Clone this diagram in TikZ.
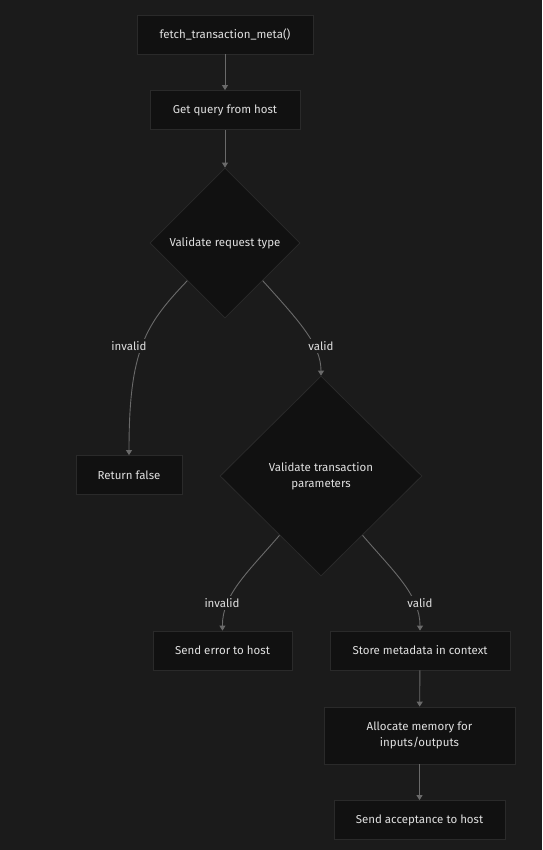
\documentclass[tikz,border=0pt]{standalone}
\usepackage{fontspec}
\setmainfont{Fira Sans}
\usetikzlibrary{shapes.geometric,arrows.meta}
\definecolor{pagebg}{HTML}{1B1B1B}
\definecolor{boxfill}{HTML}{111111}
\definecolor{boxline}{HTML}{2A2A2A}
\definecolor{txt}{HTML}{E0E0E0}
\definecolor{wire}{HTML}{6A6A6A}
\begin{document}
\begin{tikzpicture}[x=1pt,y=-1pt,
  font=\fontsize{11.5}{16}\selectfont, text=txt,
  procbox/.style={draw=boxline, fill=boxfill, line width=0.8pt, minimum height=39pt, align=center, inner sep=0pt},
  decision/.style={diamond, draw=boxline, fill=boxfill, line width=0.8pt, aspect=1, inner sep=0pt, align=center},
  flow/.style={draw=wire, line width=0.9pt, -{Triangle[width=6pt,length=5pt]}},
  tag/.style={fill=pagebg, inner sep=2pt, text=txt}]
\fill[pagebg] (0,0) rectangle (542,850);
\useasboundingbox (0,0) rectangle (542,850);

\node[procbox, minimum width=176pt] (start) at (225,34.5) {fetch\_transaction\_meta()};
\node[procbox, minimum width=150pt] (query) at (225,110) {Get query from host};
\node[decision, minimum width=150pt, minimum height=150pt] (reqtype) at (225,243) {Validate request type};
\node[procbox, minimum width=106pt] (retfalse) at (129,475) {Return false};
\node[decision, minimum width=202pt, minimum height=200pt] (params) at (321,476) {Validate transaction\\parameters};
\node[procbox, minimum width=139pt] (senderr) at (222.5,650.5) {Send error to host};
\node[procbox, minimum width=180pt] (store) at (420,650.5) {Store metadata in context};
\node[procbox, minimum width=191pt, minimum height=57pt] (alloc) at (419.5,735.5) {Allocate memory for\\inputs/outputs};
\node[procbox, minimum width=171pt] (accept) at (419.5,820) {Send acceptance to host};

\draw[flow] (start) -- (query);
\draw[flow] (query) -- (reqtype);
\draw[flow] (reqtype.south west) .. controls (145,325) and (129,350) .. (retfalse.north);
\draw[flow] (reqtype.south east) .. controls (300,322) and (321,345) .. (params.north);
\draw[flow] (params.235) .. controls (248,572) and (222,595) .. (senderr.north);
\draw[flow] (params.305) .. controls (394,572) and (420,595) .. (store.north);
\draw[flow] (store) -- (alloc);
\draw[flow] (alloc) -- (accept);

\node[tag] (lbl1) at (129,346) {invalid};
\node[tag] (lbl2) at (321,346) {valid};
\node[tag] (lbl3) at (222,603) {invalid};
\node[tag] (lbl4) at (420,603) {valid};
\end{tikzpicture}
\end{document}
